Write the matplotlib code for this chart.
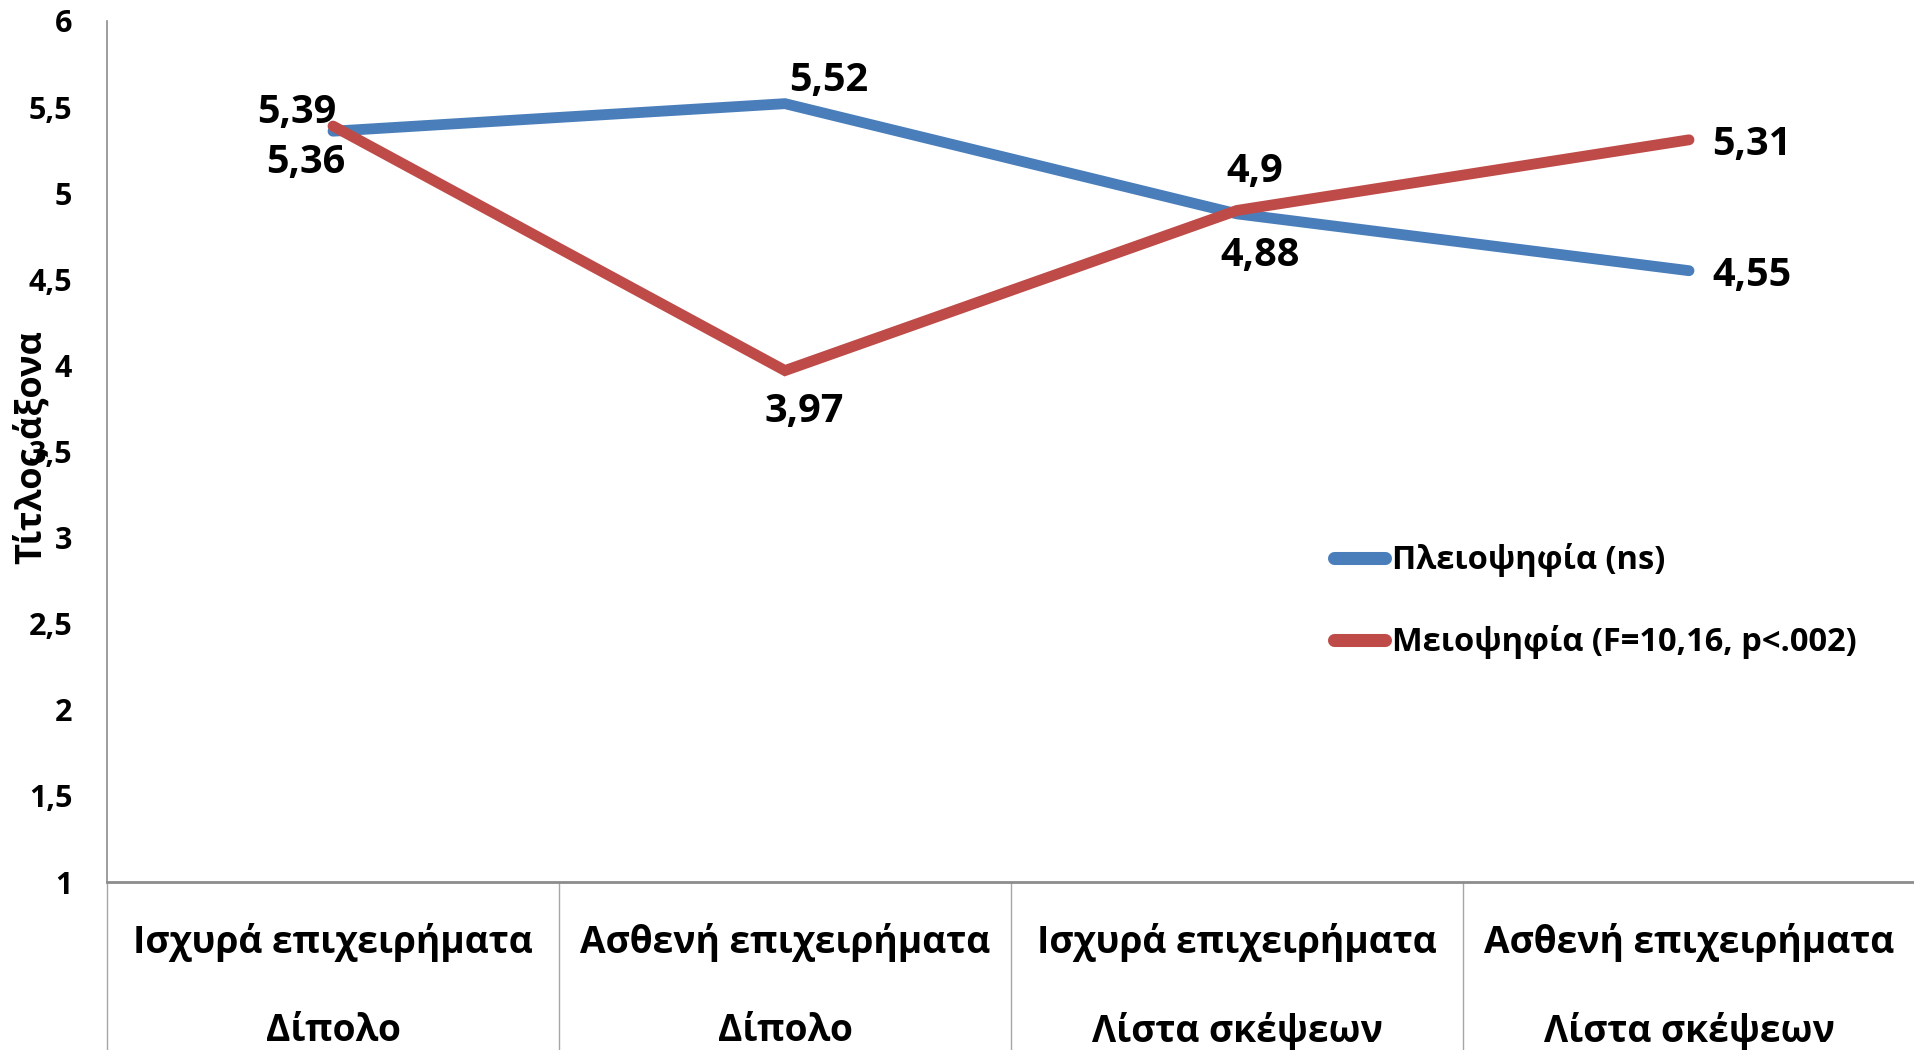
import matplotlib
matplotlib.use("Agg")
import matplotlib.pyplot as plt
from matplotlib.ticker import FuncFormatter

plt.rcParams['font.family'] = ['Open Sans', 'DejaVu Sans']
plt.rcParams['font.weight'] = 'bold'

categories = [
    ("Ισχυρά επιχειρήματα", "Δίπολο"),
    ("Ασθενή επιχειρήματα", "Δίπολο"),
    ("Ισχυρά επιχειρήματα", "Λίστα σκέψεων"),
    ("Ασθενή επιχειρήματα", "Λίστα σκέψεων"),
]
majority = [5.36, 5.52, 4.88, 4.55]
minority = [5.39, 3.97, 4.90, 5.31]
majority_label = "Πλειοψηφία (ns)"
minority_label = "Μειοψηφία (F=10,16, p<.002)"
y_title = "Τίτλος άξονα"

# label offsets in pixels (dx, dy, ha)
maj_offsets = [(-27, -31, 'center'), (44, 23, 'center'), (23, -42, 'center'), (23, -5, 'left')]
min_offsets = [(-36, 14, 'center'), (19, -41, 'center'), (18, 39, 'center'), (23, -5, 'left')]

blue = '#4A7EBB'
red = '#BE4B48'
gray = '#8C8C8C'

fig = plt.figure(figsize=(19.15, 10.5), dpi=100)
ax = fig.add_axes([107 / 1915, 168 / 1050, 1 - 107 / 1915, 861 / 1050])

x = list(range(len(categories)))
ax.plot(x, majority, color=blue, lw=7.8, solid_capstyle='round', solid_joinstyle='miter',
        label=majority_label, zorder=3)
ax.plot(x, minority, color=red, lw=7.8, solid_capstyle='round', solid_joinstyle='miter',
        label=minority_label, zorder=4)

def fmt(v):
    s = ('%.2f' % v).rstrip('0').rstrip('.')
    return s.replace('.', ',')

for xi, v, (dx, dy, ha) in zip(x, majority, maj_offsets):
    ax.annotate(fmt(v), (xi, v), xytext=(dx, dy), textcoords='offset pixels',
                ha=ha, va='center', fontsize=28.5, fontweight='bold')
for xi, v, (dx, dy, ha) in zip(x, minority, min_offsets):
    ax.annotate(fmt(v), (xi, v), xytext=(dx, dy), textcoords='offset pixels',
                ha=ha, va='center', fontsize=28.5, fontweight='bold')

ax.set_xlim(-0.5, len(categories) - 0.5)
ax.set_ylim(1, 6)
ax.set_yticks([1 + 0.5 * i for i in range(11)])
ax.yaxis.set_major_formatter(FuncFormatter(lambda v, p: fmt(v)))
ax.tick_params(axis='y', length=0, pad=25, labelsize=22)

# category separators extending below the axis
ax.set_xticks([i - 0.5 for i in range(len(categories) + 1)])
ax.set_xticklabels([])
ax.tick_params(axis='x', direction='out', length=121, width=1, color='#A6A6A6')

for xi, (l1, l2) in zip(x, categories):
    ax.text(xi, -0.0698, l1, transform=ax.get_xaxis_transform(), ha='center', va='center',
            fontsize=26.7, fontweight='bold')
    ax.text(xi, -0.1732, l2, transform=ax.get_xaxis_transform(), ha='center', va='center',
            fontsize=26.7, fontweight='bold')

for s in ['top', 'right']:
    ax.spines[s].set_visible(False)
ax.spines['left'].set_color(gray)
ax.spines['left'].set_linewidth(1.2)
ax.spines['bottom'].set_color(gray)
ax.spines['bottom'].set_linewidth(2)

fig.text(33 / 1915, 1 - 448 / 1050, y_title, rotation=90, ha='center', va='center',
         fontsize=26, fontweight='bold')

leg = ax.legend(loc='upper left', bbox_to_anchor=(1334 / 1915, 1 - 543 / 1050),
                bbox_transform=fig.transFigure, frameon=False, fontsize=23.5,
                handlelength=1.56, handletextpad=0.23, labelspacing=1.47,
                borderpad=0, borderaxespad=0)
for h in leg.get_lines():
    h.set_linewidth(9.4)

fig.savefig('out.png', dpi=100)
